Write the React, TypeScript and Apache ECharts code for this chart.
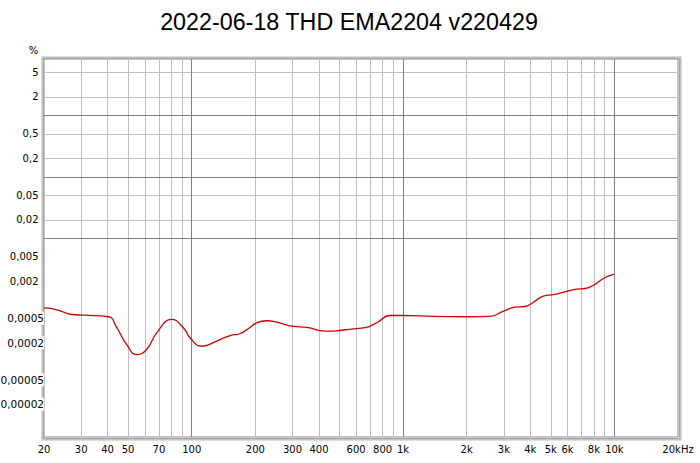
import React, { useEffect, useRef } from 'react';
import * as echarts from 'echarts';

// ---- Data ----
const freqHz = [20, 23, 27, 30.7, 40.3, 44.2, 49.2, 54.9, 61.2, 68.3, 80.4, 91.3, 98.2, 111.5, 131, 152, 169, 185, 203, 226, 253, 303, 350, 436, 486, 582, 661, 751, 868, 1003, 1391, 2005, 2581, 2984, 3390, 3779, 4139, 4613, 5144, 5953, 6640, 7268, 7958, 9040, 9970];
const thdPercent = [7.38e-4, 6.9e-4, 5.78e-4, 5.63e-4, 5.31e-4, 3.52e-4, 1.88e-4, 1.29e-4, 1.56e-4, 2.91e-4, 4.8e-4, 3.52e-4, 2.42e-4, 1.76e-4, 2.13e-4, 2.63e-4, 2.81e-4, 3.38e-4, 4.23e-4, 4.57e-4, 4.34e-4, 3.69e-4, 3.56e-4, 3.09e-4, 3.14e-4, 3.38e-4, 3.52e-4, 4.24e-4, 5.57e-4, 5.57e-4, 5.37e-4, 5.31e-4, 5.37e-4, 6.55e-4, 7.6e-4, 7.8e-4, 9.16e-4, 1.15e-3, 1.22e-3, 1.37e-3, 1.49e-3, 1.53e-3, 1.73e-3, 2.31e-3, 2.59e-3];

const xLabelValues = [20, 30, 40, 50, 70, 100, 200, 300, 400, 600, 800, 1000, 2000, 3000, 4000, 5000, 6000, 8000, 10000, 20000];
const xLabelTexts = ['20', '30', '40', '50', '70', '100', '200', '300', '400', '600', '800', '1k', '2k', '3k', '4k', '5k', '6k', '8k', '10k', '20kHz'];

const yLabelValues = [5, 2, 0.5, 0.2, 0.05, 0.02, 0.005, 0.002];
const yLabelTexts = ['5', '2', '0,5', '0,2', '0,05', '0,02', '0,005', '0,002'];
const yLongLabelValues = [0.0005, 0.0002, 0.00005, 0.00002];
const yLongLabelTexts = ['0,0005', '0,0002', '0,00005', '0,00002'];

const xMinorGrid = [30, 40, 50, 60, 70, 80, 90, 200, 300, 400, 500, 600, 700, 800, 900, 2000, 3000, 4000, 5000, 6000, 7000, 8000, 9000];
const xMajorGrid = [100, 1000, 10000];
const yMinorGrid = [5, 2, 0.5, 0.2, 0.05, 0.02, 0.005, 0.002, 0.0005, 0.0002, 0.00005, 0.00002];
const yMajorGrid = [1, 0.1, 0.01, 0.001, 0.0001, 0.00001];

const X_MIN = 20;
const X_MAX = 20000;
const Y_MIN = 5.87e-6;
const Y_MAX = 8.3;

const TITLE = '2022-06-18 THD EMA2204 v220429';

function lookup(values: number[], texts: string[], v: number): string {
  let best = 0;
  let bestD = Infinity;
  for (let i = 0; i < values.length; i++) {
    const d = Math.abs(Math.log10(values[i]) - Math.log10(v));
    if (d < bestD) { bestD = d; best = i; }
  }
  return texts[best];
}

const FONT = '"DejaVu Sans", sans-serif';

function buildOption(): any {
  const gridLineSeries = (name: string, data: any[], color: string) => ({
    name,
    type: 'line',
    data: [],
    z: 1,
    silent: true,
    markLine: {
      silent: true,
      symbol: ['none', 'none'],
      label: { show: false },
      emphasis: { disabled: true },
      animation: false,
      lineStyle: { color, width: 1, type: 'solid' },
      data,
    },
  });

  const frameColors = ['#a6a6a6', '#c2c2c2', '#dcdcdc'];
  const L = 44, T = 59, R = 678, B = 437;

  return {
    animation: false,
    backgroundColor: '#ffffff',
    grid: {
      left: L,
      top: T,
      width: R - L,
      height: B - T,
      containLabel: false,
      outerBoundsMode: 'none',
      show: true,
      backgroundColor: 'transparent',
      borderColor: '#8c8c8c',
      borderWidth: 1,
    },
    xAxis: {
      type: 'log',
      logBase: 10,
      min: X_MIN,
      max: X_MAX,
      axisLine: { show: false },
      axisTick: { show: false },
      splitLine: { show: false },
      minorTick: { show: false },
      minorSplitLine: { show: false },
      axisLabel: {
        customValues: xLabelValues,
        formatter: (v: number) => lookup(xLabelValues, xLabelTexts, v),
        fontFamily: FONT,
        fontSize: 10,
        color: '#000',
        margin: 7,
        showMinLabel: true,
        showMaxLabel: true,
        hideOverlap: false,
      },
    },
    yAxis: [
      {
        type: 'log',
        logBase: 10,
        min: Y_MIN,
        max: Y_MAX,
        z: 10,
        axisLine: { show: false },
        axisTick: { show: false },
        splitLine: { show: false },
        axisLabel: {
          customValues: yLabelValues,
          formatter: (v: number) => lookup(yLabelValues, yLabelTexts, v),
          fontFamily: FONT,
          fontSize: 10,
          color: '#000',
          margin: 5.5,
          hideOverlap: false,
        },
      },
      {
        type: 'log',
        logBase: 10,
        min: Y_MIN,
        max: Y_MAX,
        position: 'left',
        z: 10,
        axisLine: { show: false },
        axisTick: { show: false },
        splitLine: { show: false },
        axisLabel: {
          customValues: yLongLabelValues,
          formatter: (v: number) => lookup(yLongLabelValues, yLongLabelTexts, v),
          fontFamily: FONT,
          fontSize: 10.5,
          color: '#000',
          margin: 0,
          backgroundColor: '#ffffff',
          padding: [1, 0, 1, 0],
          hideOverlap: false,
        },
      },
    ],
    graphic: [
      ...frameColors.map((c, i) => {
        const o = i + 1;
        return {
          type: 'rect',
          z: 3,
          shape: {
            x: L + 0.5 - o,
            y: T + 0.5 - o,
            width: R - L + 2 * o,
            height: B - T + 2 * o,
          },
          style: { stroke: c, lineWidth: 1, fill: null },
        };
      }),
      {
        type: 'text',
        z: 20,
        x: 349,
        y: 21.5,
        style: {
          text: TITLE,
          font: '23.3px "Liberation Sans", Arial, sans-serif',
          fill: '#000',
          align: 'center',
          verticalAlign: 'middle',
        },
      },
      {
        type: 'text',
        z: 20,
        x: 33.5,
        y: 50,
        style: {
          text: '%',
          font: '10px "DejaVu Sans", sans-serif',
          fill: '#000',
          align: 'center',
          verticalAlign: 'middle',
        },
      },
    ],
    series: [
      gridLineSeries('xMinor', xMinorGrid.map((v) => ({ xAxis: v })), '#c0c0c0'),
      gridLineSeries('yMinor', yMinorGrid.map((v) => ({ yAxis: v })), '#c0c0c0'),
      gridLineSeries('xMajor', xMajorGrid.map((v) => ({ xAxis: v })), '#808080'),
      gridLineSeries('yMajor', yMajorGrid.map((v) => ({ yAxis: v })), '#808080'),
      {
        name: 'THD',
        type: 'line',
        z: 5,
        data: freqHz.map((f, i) => [f, thdPercent[i]]),
        showSymbol: false,
        symbol: 'none',
        smooth: 0.5,
        silent: true,
        lineStyle: { color: '#d00000', width: 1.3 },
      },
    ],
  };
}

export default function App() {
  const ref = useRef<HTMLDivElement>(null);
  useEffect(() => {
    document.body.style.margin = '0';
    const chart = echarts.init(ref.current!, null, { renderer: 'svg' });
    chart.setOption(buildOption());
    return () => chart.dispose();
  }, []);
  return <div ref={ref} style={{ width: 700, height: 463 }} />;
}
